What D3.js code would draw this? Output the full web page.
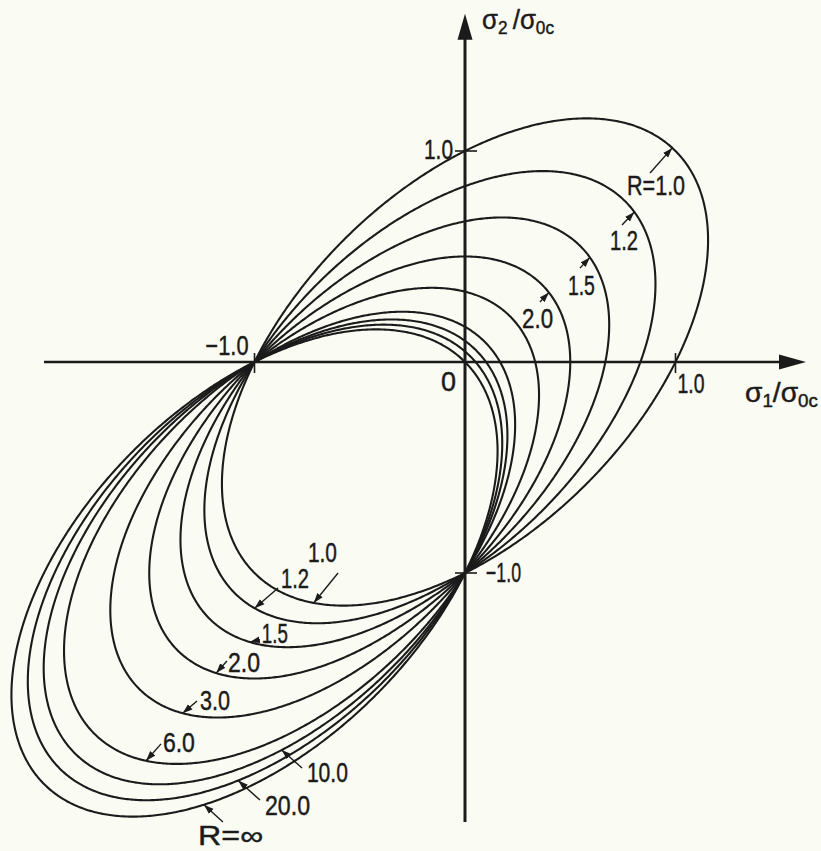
<!DOCTYPE html>
<html>
<head>
<meta charset="utf-8">
<script src="https://cdn.jsdelivr.net/npm/d3@7"></script>
<style>
  html, body { margin: 0; padding: 0; background: #fafbf2; }
  svg { display: block; }
  text { font-family: "Liberation Sans", Arial, sans-serif; fill: #1b1b1b; stroke: #1b1b1b; stroke-width: 0.45px; }
</style>
</head>
<body>
<svg id="chart" width="821" height="851"></svg>
<script>
// Strength ratio R = σ0c / σ0t for every plotted yield locus
const rValues = [1.0, 1.2, 1.5, 2.0, 3.0, 6.0, 10.0, 20.0, Infinity];

// Axis ticks (stresses normalised by σ0c)
const xTickValues = [-1.0, 0, 1.0];
const xTickLabels = ["\u22121.0", "0", "1.0"];
const yTickValues = [1.0, -1.0];
const yTickLabels = ["1.0", "\u22121.0"];

// Curve labels on the tension side (upper right) and compression side (lower left)
const upperLabelR = [1.0, 1.2, 1.5, 2.0];
const upperLabelText = ["R=1.0", "1.2", "1.5", "2.0"];
const lowerLabelR = [1.0, 1.2, 1.5, 2.0, 3.0, 6.0, 10.0, 20.0, Infinity];
const lowerLabelText = ["1.0", "1.2", "1.5", "2.0", "3.0", "6.0", "10.0", "20.0", "R=\u221E"];

// ---- layout -------------------------------------------------------------
const svg = d3.select("#chart");
const ink = "#1b1b1b";

const x = d3.scaleLinear().domain([-1, 1]).range([254.5, 675.5]);
const y = d3.scaleLinear().domain([-1, 1]).range([573, 151]);

const xAxisExtent = [-2.0, 1.62];
const yAxisExtent = [-2.18, 1.65];

// Label placement in stress coordinates: text anchor, arrow start, arrow target
const upperLayout = [
  { text: [0.770, 0.791], w: 58, from: [0.879, 0.896], to: [0.988, 1.014] },
  { text: [0.689, 0.531], w: 28, from: [0.746, 0.649], to: [0.798, 0.706] },
  { text: [0.489, 0.318], w: 27, from: [0.546, 0.445], to: [0.594, 0.498] },
  { text: [0.271, 0.161], w: 31, from: [0.356, 0.284], to: [0.399, 0.332] }
];
const lowerLayout = [
  { text: [-0.746, -0.948], w: 29, from: [-0.603, -1.000], to: [-0.713, -1.118] },
  { text: [-0.874, -1.071], w: 28, from: [-0.888, -1.071], to: [-0.993, -1.161] },
  { text: [-0.965, -1.330], w: 26, from: [-0.975, -1.316], to: [-1.021, -1.336] },
  { text: [-1.126, -1.469], w: 32, from: [-1.131, -1.417], to: [-1.178, -1.469] },
  { text: [-1.259, -1.649], w: 30, from: [-1.273, -1.607], to: [-1.340, -1.659] },
  { text: [-1.435, -1.848], w: 32, from: [-1.444, -1.810], to: [-1.511, -1.872] },
  { text: [-0.751, -1.991], w: 41, from: [-0.774, -1.924], to: [-0.869, -1.839] },
  { text: [-0.950, -2.147], w: 45, from: [-0.974, -2.076], to: [-1.078, -1.981] },
  { text: [-1.268, -2.289], w: 65, from: [-1.150, -2.180], to: [-1.235, -2.100] }
];

// ---- yield locus --------------------------------------------------------
// Paraboloid criterion in plane stress (units of σ0c):
//   σ1² − σ1σ2 + σ2² + (1 − 1/R)(σ1 + σ2) = 1/R
// In rotated axes u = (σ1+σ2)/√2, v = (σ1−σ2)/√2 it is an ellipse.
function locus(R) {
  const a = isFinite(R) ? 1 - 1 / R : 1;
  const c = isFinite(R) ? 1 / R : 0;
  const u0 = -a * Math.SQRT2;
  const k = 2 * (c + a * a);
  const au = Math.sqrt(k), av = Math.sqrt(k / 3);
  const n = 720;
  return d3.range(n).map(i => {
    const t = (i / n) * 2 * Math.PI;
    const u = u0 + au * Math.cos(t), v = av * Math.sin(t);
    return [(u + v) / Math.SQRT2, (u - v) / Math.SQRT2];
  });
}

const loci = new Map(rValues.map(R => [R, locus(R)]));

const line = d3.line()
  .x(d => x(d[0]))
  .y(d => y(d[1]))
  .curve(d3.curveLinearClosed);

// ---- markers ------------------------------------------------------------
const defs = svg.append("defs");
defs.append("marker")
  .attr("id", "tip")
  .attr("markerUnits", "userSpaceOnUse")
  .attr("viewBox", "0 0 10 8")
  .attr("refX", 10).attr("refY", 4)
  .attr("markerWidth", 10).attr("markerHeight", 8)
  .attr("orient", "auto")
  .append("path")
  .attr("d", "M0,0.6 L10,4 L0,7.4 Z")
  .attr("fill", ink);

// ---- axes ---------------------------------------------------------------
const gAxes = svg.append("g");
const x0 = x(0), y0 = y(0);

gAxes.append("line")
  .attr("x1", x(xAxisExtent[0])).attr("x2", x(xAxisExtent[1]) - 20)
  .attr("y1", y0).attr("y2", y0)
  .attr("stroke", ink).attr("stroke-width", 2.6);
gAxes.append("path")
  .attr("d", `M${x(xAxisExtent[1])},${y0} L${x(xAxisExtent[1]) - 27},${y0 - 7.5} L${x(xAxisExtent[1]) - 27},${y0 + 7.5} Z`)
  .attr("fill", ink);

gAxes.append("line")
  .attr("x1", x0).attr("x2", x0)
  .attr("y1", y(yAxisExtent[0])).attr("y2", y(yAxisExtent[1]) + 20)
  .attr("stroke", ink).attr("stroke-width", 3);
gAxes.append("path")
  .attr("d", `M${x0},${y(yAxisExtent[1])} L${x0 - 7.5},${y(yAxisExtent[1]) + 26} L${x0 + 7.5},${y(yAxisExtent[1]) + 26} Z`)
  .attr("fill", ink);

// tick marks at ±1
xTickValues.filter(v => v !== 0).forEach(v => {
  gAxes.append("line")
    .attr("x1", x(v)).attr("x2", x(v))
    .attr("y1", y0 - 9).attr("y2", y0 + 11)
    .attr("stroke", ink).attr("stroke-width", 1.6);
});
yTickValues.forEach(v => {
  gAxes.append("line")
    .attr("x1", x0 - 10).attr("x2", x0 + 12)
    .attr("y1", y(v)).attr("y2", y(v))
    .attr("stroke", ink).attr("stroke-width", 1.6);
});

// tick labels
const tickFont = 27;
const xLabelPos = [
  { dx: -6, dy: -7, anchor: "end", w: 43 },
  { dx: -9, dy: 29, anchor: "end", w: 15 },
  { dx: 2, dy: 31, anchor: "start", w: 27 }
];
xTickValues.forEach((v, i) => {
  const p = xLabelPos[i];
  gAxes.append("text")
    .attr("x", x(v) + p.dx).attr("y", y0 + p.dy)
    .attr("text-anchor", p.anchor)
    .attr("font-size", tickFont)
    .attr("textLength", p.w).attr("lengthAdjust", "spacingAndGlyphs")
    .text(xTickLabels[i]);
});
const yLabelPos = [
  { dx: -12, dy: 8, anchor: "end", w: 29 },
  { dx: 21, dy: 9, anchor: "start", w: 35 }
];
yTickValues.forEach((v, i) => {
  const p = yLabelPos[i];
  gAxes.append("text")
    .attr("x", x0 + p.dx).attr("y", y(v) + p.dy)
    .attr("text-anchor", p.anchor)
    .attr("font-size", tickFont)
    .attr("textLength", p.w).attr("lengthAdjust", "spacingAndGlyphs")
    .text(yTickLabels[i]);
});

// axis titles σ2/σ0c and σ1/σ0c
function axisTitle(px, py, sub1, gap, w) {
  const t = gAxes.append("text").attr("x", px).attr("y", py).attr("font-size", 27)
    .attr("textLength", w).attr("lengthAdjust", "spacingAndGlyphs");
  t.append("tspan").text("\u03C3");
  t.append("tspan").attr("font-size", 18).attr("dy", 5).text(sub1);
  t.append("tspan").attr("dy", -5).text(gap + "/");
  t.append("tspan").text("\u03C3");
  t.append("tspan").attr("font-size", 18).attr("dy", 5).text("0c");
}
axisTitle(482, 29, "2", "\u2009", 72);
axisTitle(745, 402, "1", "", 73);

// ---- loci ---------------------------------------------------------------
svg.append("g")
  .selectAll("path")
  .data(rValues)
  .join("path")
  .attr("d", R => line(loci.get(R)))
  .attr("fill", "none")
  .attr("stroke", ink)
  .attr("stroke-width", 2.1)
  .attr("stroke-linejoin", "round");

// ---- curve labels with arrows --------------------------------------------
function nearestOn(R, target) {
  const tx = x(target[0]), ty = y(target[1]);
  let best = null, bd = Infinity;
  loci.get(R).forEach(p => {
    const d = (x(p[0]) - tx) ** 2 + (y(p[1]) - ty) ** 2;
    if (d < bd) { bd = d; best = p; }
  });
  return best;
}

const gLabels = svg.append("g");
function drawLabels(rs, texts, layout) {
  rs.forEach((R, i) => {
    const L = layout[i];
    const tip = nearestOn(R, L.to);
    gLabels.append("line")
      .attr("x1", x(L.from[0])).attr("y1", y(L.from[1]))
      .attr("x2", x(tip[0])).attr("y2", y(tip[1]))
      .attr("stroke", ink).attr("stroke-width", 1.4)
      .attr("marker-end", "url(#tip)");
    gLabels.append("text")
      .attr("x", x(L.text[0])).attr("y", y(L.text[1]))
      .attr("font-size", 27)
      .attr("textLength", L.w).attr("lengthAdjust", "spacingAndGlyphs")
      .text(texts[i]);
  });
}
drawLabels(upperLabelR, upperLabelText, upperLayout);
drawLabels(lowerLabelR, lowerLabelText, lowerLayout);
</script>
</body>
</html>
